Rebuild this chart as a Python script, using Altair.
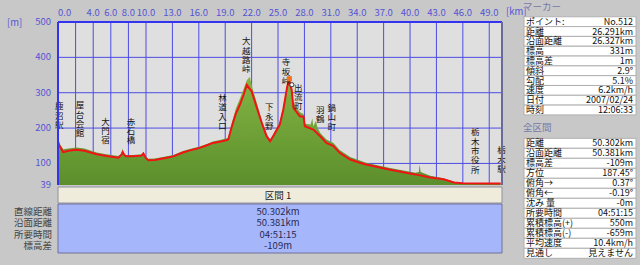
import altair as alt
import pandas as pd

FONT = "Noto Sans CJK JP"

# ---- smoothed track (red line) ----
track_km = [0.0, 0.15, 0.6, 1.2, 2.1, 3.0, 4.4, 5.5, 6.85, 7.2, 7.35, 7.55, 7.7, 8.5,
            9.5, 9.7, 10.0, 10.25, 11.0, 12.35, 13.1, 14.2, 15.0, 16.1, 17.0, 17.6,
            18.5, 19.2, 19.35, 19.7, 20.2, 20.7, 21.1, 21.45, 22.0, 22.6, 23.15, 23.7,
            24.1, 24.45, 25.2, 25.6, 26.05, 26.3, 26.55, 26.75, 27.5, 27.9, 28.05,
            29.0, 29.8, 30.5, 31.3, 32.0, 33.2, 34.3, 35.0, 37.6, 40.6, 42.3, 43.8,
            45.0, 46.0, 50.3]
track_elev = [162, 150, 132, 136, 139, 136, 126, 121, 116, 124, 132, 124, 120, 120,
              122, 128, 115, 109, 110, 116, 120, 131, 137, 144, 152, 158,
              162, 166, 168, 200, 240, 268, 295, 322, 304, 257, 215, 177,
              163, 177, 210, 252, 318, 332, 308, 257, 233, 233, 205,
              196, 177, 158, 149, 130, 111, 102, 97, 83, 69, 60, 55,
              46, 44, 43]

# ---- raw terrain (green area) ----
terr_km = [0.0, 0.15, 0.6, 1.2, 2.1, 3.0, 4.4, 5.5, 6.85, 7.2, 7.35, 7.5, 7.7, 8.5,
           9.5, 9.7, 10.0, 10.25, 11.0, 12.35, 13.1, 14.2, 15.0, 16.1, 17.0, 17.6,
           18.5, 19.2, 19.35, 19.7, 20.2, 20.7, 21.1, 21.45, 21.8, 22.0, 22.6, 23.15,
           23.7, 24.1, 24.45, 25.2, 25.6, 26.05, 26.3, 26.55, 26.75, 27.5, 27.9,
           28.05, 28.7, 28.9, 29.0, 29.3, 29.5, 29.8, 30.5, 31.3, 32.0, 33.2, 34.3,
           35.0, 37.6, 40.6, 41.0, 41.1, 41.2, 42.3, 43.8, 45.0, 46.0, 50.3]
terr_elev = [170, 158, 140, 142, 145, 142, 131, 126, 121, 128, 142, 126, 124, 124,
             126, 132, 118, 113, 114, 120, 124, 135, 141, 148, 156, 162,
             167, 171, 173, 210, 255, 285, 312, 335, 345, 322, 270, 222,
             183, 168, 182, 218, 262, 328, 345, 322, 270, 245, 240,
             212, 210, 228, 205, 220, 200, 186, 168, 158, 138, 118, 108,
             102, 88, 74, 76, 97, 76, 65, 58, 48, 44, 43]

grid_km = [0, 2, 4, 6, 8, 10, 13, 16, 19, 22, 25, 28, 31, 34, 37, 40, 43, 46, 49]
tick_km = [0, 4, 6, 8, 10, 13, 16, 19, 22, 25, 28, 31, 34, 37, 40, 43, 46, 49]
grid_elev = [100, 200, 300, 400]
tick_elev = [39, 100, 200, 300, 400, 500]

place_names = ["鹿沼駅", "屋台会館", "大門宿", "赤石橋", "林道入口", "大越路峠", "下永野",
               "寺坂峠", "出流町", "羽鶴", "鍋山町", "栃木市役所", "栃木駅"]
place_km = [0.15, 2.5, 5.4, 8.3, 18.7, 21.4, 24.0, 25.9, 27.3, 29.8, 31.1, 47.4, 50.4]
place_top = [273, 276, 229, 229, 296, 457, 270, 397, 326, 262, 268, 199, 148]

marker_point = {"km": [26.291], "elev": [331]}

marker_keys = ["ポイント:", "距離", "沿面距離", "標高", "標高差", "傾斜", "勾配", "速度", "日付", "時刻"]
marker_vals = ["No.512", "26.291km", "26.327km", "331m", "1m", "2.9°", "5.1%", "6.2km/h",
               "2007/02/24", "12:06:33"]
total_keys = ["距離", "沿面距離", "標高差", "方位", "俯角→", "俯角←", "沈み 量", "所要時間",
              "累積標高(+)", "累積標高(-)", "平均速度", "見通し"]
total_vals = ["50.302km", "50.381km", "-109m", "187.45°", "0.37°", "-0.19°", "-0m",
              "04:51:15", "550m", "-659m", "10.4km/h", "見えません"]
section_title = ["区間 1"]
section_keys = ["直線距離", "沿面距離", "所要時間", "標高差"]
section_vals = ["50.302km", "50.381km", "04:51:15", "-109m"]
headers = ["マーカー", "全区間"]

# ---------------------------------------------------------------
W, H = 444, 163
X_MAX = 50.45
AX = "#5454d4"
GRID = "#4c4ce4"
BORDER = "#3434f0"
FS = 9.5
xs = alt.Scale(domain=[0, X_MAX], nice=False, zero=False)
ys = alt.Scale(domain=[39, 500], nice=False, zero=False)

track = pd.DataFrame({"km": track_km, "elev": track_elev})
terr = pd.DataFrame({"km": terr_km, "elev": terr_elev})
places = pd.DataFrame({"name": ["\n".join(list(n)) for n in place_names],
                       "km": place_km, "top": place_top})

vgrid = alt.Chart(pd.DataFrame({"km": grid_km})).mark_rule(
    color=GRID, strokeWidth=1).encode(x=alt.X("km:Q", scale=xs, axis=None))
hgrid = alt.Chart(pd.DataFrame({"elev": grid_elev})).mark_rule(
    color=GRID, strokeWidth=1).encode(y=alt.Y("elev:Q", scale=ys, axis=None))

green = alt.Gradient(gradient="linear",
                     stops=[alt.GradientStop(color="#84b444", offset=0),
                            alt.GradientStop(color="#5c8f2c", offset=1)],
                     x1=0, x2=0, y1=0, y2=1)

area = alt.Chart(terr).mark_area(color=green, clip=True).encode(
    x=alt.X("km:Q", scale=xs, axis=None),
    y=alt.Y("elev:Q", scale=ys, axis=None),
    y2=alt.Y2(datum=39),
)

line = alt.Chart(track).mark_line(color="#f01414", strokeWidth=2, clip=True).encode(
    x=alt.X("km:Q", scale=xs), y=alt.Y("elev:Q", scale=ys))

labels = alt.Chart(places).mark_text(
    font=FONT, fontSize=8.5, lineBreak="\n", lineHeight=9.3, align="center",
    baseline="top", color="#111111").encode(
    x=alt.X("km:Q", scale=xs), y=alt.Y("top:Q", scale=ys), text="name:N")

mk = pd.DataFrame(marker_point)
marker_sq = alt.Chart(mk).mark_square(size=26, color="#f07020", opacity=1,
                                      yOffset=-3).encode(
    x=alt.X("km:Q", scale=xs), y=alt.Y("elev:Q", scale=ys))
marker_ring = alt.Chart(mk).mark_point(shape="circle", size=18, filled=True,
                                       fill="#ffffff", stroke="#333333",
                                       strokeWidth=1, opacity=1,
                                       xOffset=2.5, yOffset=3).encode(
    x=alt.X("km:Q", scale=xs), y=alt.Y("elev:Q", scale=ys))

# plot frame
left_border = alt.Chart(pd.DataFrame({"km": [0]})).mark_rule(
    color=BORDER, strokeWidth=2).encode(x=alt.X("km:Q", scale=xs))
top_border = alt.Chart(pd.DataFrame({"elev": [500]})).mark_rule(
    color=BORDER, strokeWidth=2).encode(y=alt.Y("elev:Q", scale=ys))
right_border = alt.Chart(pd.DataFrame({"km": [X_MAX]})).mark_rule(
    color="#6a6a98", strokeWidth=2).encode(x=alt.X("km:Q", scale=xs))

# tick labels drawn from tick arrays through the scales
xt = alt.Chart(pd.DataFrame({"km": tick_km})).transform_calculate(
    lab="format(datum.km, '.1f')")
xt_first = xt.transform_filter("datum.km == 0").mark_text(
    font=FONT, fontSize=FS, color=AX, align="left", baseline="middle").encode(
    x=alt.X("km:Q", scale=xs), y=alt.value(-9), text="lab:N")
xt_rest = xt.transform_filter("datum.km > 0").mark_text(
    font=FONT, fontSize=FS, color=AX, align="center", baseline="middle").encode(
    x=alt.X("km:Q", scale=xs), y=alt.value(-9), text="lab:N")
yt = alt.Chart(pd.DataFrame({"elev": tick_elev})).mark_text(
    font=FONT, fontSize=FS, color=AX, align="right", baseline="middle").encode(
    x=alt.value(-7), y=alt.Y("elev:Q", scale=ys), text="elev:Q")
unit_m = alt.Chart(pd.DataFrame({"t": ["[m]"]})).mark_text(
    font=FONT, fontSize=FS, color=AX, align="left", baseline="middle").encode(
    x=alt.value(-51), y=alt.value(1), text="t:N")
unit_km = alt.Chart(pd.DataFrame({"t": ["[km]"]})).mark_text(
    font=FONT, fontSize=FS, color=AX, align="left", baseline="middle").encode(
    x=alt.value(448), y=alt.value(-10), text="t:N")

# section band under the profile
band_df = pd.DataFrame({"a": [0], "b": [X_MAX]})
cream = alt.Chart(band_df).mark_rect(fill="#efecdb", stroke="#9090a0", strokeWidth=1).encode(
    x=alt.X("a:Q", scale=xs), x2="b:Q", y=alt.value(165), y2=alt.value(181))
blue = alt.Chart(band_df).mark_rect(fill="#a6b6fb", stroke="#70709a", strokeWidth=1).encode(
    x=alt.X("a:Q", scale=xs), x2="b:Q", y=alt.value(182), y2=alt.value(231))
sec_title = alt.Chart(pd.DataFrame({"t": section_title})).mark_text(
    font=FONT, fontSize=FS, color="#222222", baseline="middle").encode(
    x=alt.value(220), y=alt.value(174), text="t:N")

profile = alt.layer(vgrid, hgrid, area, line, labels, marker_sq, marker_ring,
                    left_border, top_border, right_border, xt_first, xt_rest, yt,
                    unit_m, unit_km, cream, blue, sec_title)

sec = pd.DataFrame({"row": list(range(len(section_keys))), "k": section_keys, "v": section_vals})
sec_y = alt.Scale(domain=[0, 3], range=[189.7, 224])
sec_k = alt.Chart(sec).mark_text(font=FONT, fontSize=FS, align="right", baseline="middle",
                                 color="#444444").encode(
    x=alt.value(-6), y=alt.Y("row:Q", scale=sec_y, axis=None), text="k:N")
sec_v = alt.Chart(sec).mark_text(font=FONT, fontSize=FS, align="center", baseline="middle",
                                 color="#2a2a50").encode(
    x=alt.value(220), y=alt.Y("row:Q", scale=sec_y, axis=None), text="v:N")
section = alt.layer(sec_k, sec_v)


def table(keys, vals, y0, y1):
    df = pd.DataFrame({"row": list(range(len(keys))), "k": keys, "v": vals})
    sc = alt.Scale(domain=[0, len(keys) - 1], range=[y0, y1])
    base = alt.Chart(df)
    cells = base.transform_calculate(r0="datum.row - 0.5", r1="datum.row + 0.5").mark_rect(
        fill="#ffffff", stroke="#b0b0b0", strokeWidth=1).encode(
        x=alt.value(466), x2=alt.value(578),
        y=alt.Y("r0:Q", scale=sc, axis=None), y2="r1:Q")
    kt = base.mark_text(font=FONT, fontSize=9, align="left", baseline="middle",
                        color="#111111").encode(
        x=alt.value(468), y=alt.Y("row:Q", scale=sc, axis=None), text="k:N")
    vt = base.mark_text(font=FONT, fontSize=9, align="right", baseline="middle",
                        color="#111111").encode(
        x=alt.value(575), y=alt.Y("row:Q", scale=sc, axis=None), text="v:N")
    return alt.layer(cells, kt, vt)


marker_tbl = table(marker_keys, marker_vals, -0.3, 88)
total_tbl = table(total_keys, total_vals, 121.3, 231.3)

hdr = pd.DataFrame({"row": [0, 1], "h": headers})
hdr_y = alt.Scale(domain=[0, 1], range=[-15, 105.7])
hdr_txt = alt.Chart(hdr).mark_text(font=FONT, fontSize=FS, align="left", baseline="middle",
                                   color="#7878a8").encode(
    x=alt.value(465), y=alt.Y("row:Q", scale=hdr_y, axis=None), text="h:N")

chart = alt.layer(profile, section, marker_tbl, total_tbl, hdr_txt).resolve_scale(
    x="independent", y="independent").properties(
    width=W, height=H,
    padding={"left": 58, "top": 22, "right": 138, "bottom": 80},
    autosize=alt.AutoSizeParams(type="none"),
    background="#c8c8c8",
).configure_view(fill="#dfdfdf", stroke=None)

chart.save("out.html", embed_options={"renderer": "svg", "actions": False})
